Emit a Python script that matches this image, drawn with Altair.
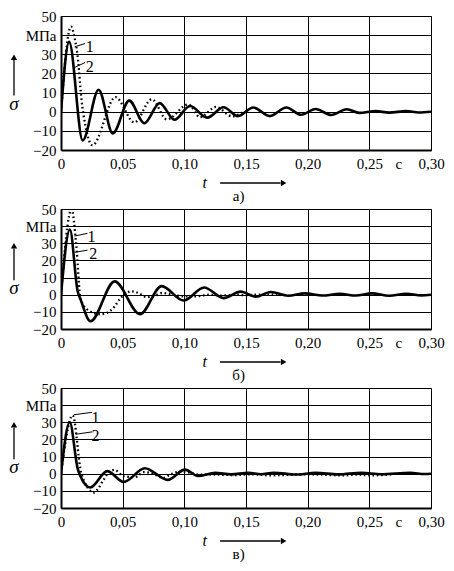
import altair as alt
import pandas as pd

FONT = "Liberation Serif"
W = 370
HEIGHTS = [134, 120, 120]

X_TICKS = [0, 0.05, 0.10, 0.15, 0.20, 0.25, 0.30]
Y_TICKS = [-20, -10, 0, 10, 20, 30, 40, 50]

# panel a
A1_T = [0, 0.0066, 0.0176, 0.0305, 0.042, 0.0553, 0.0676, 0.080, 0.092, 0.1046, 0.1185, 0.1318, 0.1435,
        0.1559, 0.1693, 0.1827, 0.1947, 0.2064, 0.219, 0.2317, 0.2418, 0.2553, 0.266, 0.28, 0.29, 0.30]
A1_S = [0, 36.5, -15, 11.5, -11.3, 5.8, -6, 4.5, -4.2, 3, -3.1, 2.3, -2.3,
        2.2, -2.3, 2.2, -1.6, 1.4, -1.7, 1.3, -0.6, 0.3, -0.5, 0.3, -0.4, 0]
A2_T = [0, 0.0081, 0.0115, 0.0133, 0.0167, 0.0197, 0.0255, 0.0442, 0.0595, 0.0736, 0.0858, 0.1033,
        0.1128, 0.1257, 0.1387, 0.148]
A2_S = [0, 44.5, 37, 30, 6, -7, -17.5, 7.6, -5.6, 6.5, -4, 3.8, -2.9, 2.5, -2.4, 0]

# panel b
B1_T = [0, 0.0072, 0.0135, 0.016, 0.0239, 0.0435, 0.0641, 0.0816, 0.0995, 0.116, 0.132, 0.1456, 0.158,
        0.170, 0.184, 0.198, 0.212, 0.226, 0.239, 0.252, 0.266, 0.28, 0.292, 0.30]
B1_S = [0, 38, 2, -3, -15.5, 7.8, -11.4, 5, -3.4, 4.2, -2, 1.8, -1.2,
        1.6, -0.6, 0.8, -0.5, 0.5, -0.5, 0.8, -0.6, 0.6, -0.4, 0]
B2_T = [0, 0.0086, 0.0123, 0.016, 0.0243, 0.0316, 0.0375, 0.0433, 0.0477, 0.0573, 0.0628, 0.0696,
        0.0772, 0.0818, 0.0873, 0.094, 0.102, 0.112, 0.12, 0.13, 0.14, 0.15, 0.16, 0.175]
B2_S = [0, 50, 29.6, -3, -10, -11.4, -10.5, -7, -2.5, 2, 1, -1.4,
        -0.4, 1, 0.6, -0.5, -1, -0.8, 0, -0.5, 0, -0.3, 0, 0]

# panel c
C1_T = [0, 0.0071, 0.0135, 0.0155, 0.0238, 0.0375, 0.0508, 0.068, 0.0866, 0.1005, 0.111, 0.125, 0.138,
        0.152, 0.162, 0.1724, 0.1908, 0.2065, 0.2248, 0.2437, 0.2595, 0.2831, 0.295, 0.30]
C1_S = [0, 30, 3, -1, -8, 1.5, -4.8, 3.2, -3.6, 2.4, -1.3, 0.5, -0.4,
        0.5, -0.3, 0.6, -0.5, 0.5, -0.4, 0.6, -0.3, 0.5, -0.2, 0]
C2_T = [0, 0.0095, 0.0165, 0.0268, 0.0303, 0.0346, 0.039, 0.0434, 0.0508, 0.060, 0.067, 0.0723, 0.0777,
        0.083, 0.0885, 0.097, 0.103, 0.1106, 0.125, 0.14, 0.155, 0.17, 0.18, 0.195, 0.21, 0.228, 0.24,
        0.25, 0.27]
C2_S = [0, 34, 0, -11, -8.5, -3.4, 0.9, 2.2, -1.5, -2, 0.9, 0.5, -1,
        -2.4, -0.5, 1.3, 0.9, -0.5, -0.5, -0.8, -0.3, -1, -0.8, -0.3, -0.5, -1, -0.5,
        -1, -0.3]

# curve number labels and leader lines (t, sigma)
LEAD_A = [(0.011, 33.9, 0.0195, 35.6), (0.011, 23.1, 0.0195, 25.7)]
NUM_A = [(0.0233, 33.8, "1"), (0.0233, 23.1, "2")]
LEAD_B = [(0.0109, 34.2, 0.0215, 35.8), (0.0109, 24.7, 0.0215, 26.0)]
NUM_B = [(0.0247, 33.7, "1"), (0.0261, 23.7, "2")]
LEAD_C = [(0.0105, 34.4, 0.0252, 35.8), (0.0118, 23.0, 0.0252, 24.4)]
NUM_C = [(0.028, 32.5, "1"), (0.028, 22.1, "2")]

PANEL_LETTERS = ["а)", "б)", "в)"]
UNIT_T = "с"
SIGMA_LABEL = "σ"
TIME_LABEL = "t"

X_LABEL_EXPR = "datum.value == 0 ? '0' : replace(format(datum.value, '.2f'), '.', ',')"
Y_LABEL_EXPR = "datum.value == 40 ? 'МПа' : format(datum.value, 'd')"

X_SCALE = alt.Scale(domain=[0, 0.3], nice=False, zero=False)
Y_SCALE = alt.Scale(domain=[-20, 50], nice=False, zero=False)

X_AXIS = alt.Axis(values=X_TICKS, labelExpr=X_LABEL_EXPR, title=None, grid=True, gridColor="black",
                  gridWidth=1, gridOpacity=1, ticks=False, domainColor="black", domainWidth=2,
                  labelFont=FONT, labelFontSize=15, labelColor="black", labelFlush=False,
                  labelOverlap=False, labelPadding=6)
Y_AXIS = alt.Axis(values=Y_TICKS, labelExpr=Y_LABEL_EXPR, title=None, grid=True, gridColor="black",
                  gridWidth=1, gridOpacity=1, ticks=False, domainColor="black", domainWidth=2,
                  labelFont=FONT, labelFontSize=15, labelColor="black", labelFlush=False,
                  labelOverlap=False, labelPadding=5)


def xenc(f="t"):
    return alt.X(f"{f}:Q", scale=X_SCALE, axis=X_AXIS)


def yenc(f="s"):
    return alt.Y(f"{f}:Q", scale=Y_SCALE, axis=Y_AXIS)


def panel(s_t, s_s, d_t, d_s, leads, nums, letter, h):
    solid = alt.Chart(pd.DataFrame({"t": s_t, "s": s_s})).mark_line(
        interpolate="monotone", color="black", strokeWidth=2.6, clip=True
    ).encode(x=xenc(), y=yenc())
    dotted = alt.Chart(pd.DataFrame({"t": d_t, "s": d_s})).mark_line(
        interpolate="monotone", color="black", strokeWidth=2.3, strokeDash=[1.6, 2.7], clip=True
    ).encode(x=xenc(), y=yenc())
    ldf = pd.DataFrame(leads, columns=["t", "s", "t2", "s2"])
    leaders = alt.Chart(ldf).mark_rule(color="black", strokeWidth=1).encode(
        x=xenc(), y=yenc(), x2="t2:Q", y2="s2:Q")
    ndf = pd.DataFrame(nums, columns=["t", "s", "txt"])
    numbers = alt.Chart(ndf).mark_text(font=FONT, fontSize=16, color="black", align="center",
                                       baseline="middle").encode(x=xenc(), y=yenc(), text="txt:N")
    # sigma label and upward arrow
    sig = alt.Chart(pd.DataFrame({"s": [4.0], "txt": [SIGMA_LABEL]})).mark_text(
        font=FONT, fontSize=19, fontStyle="italic", color="black", align="center", baseline="middle"
    ).encode(x=alt.value(-47), y=yenc(), text="txt:N")
    sig_arrow = alt.Chart(pd.DataFrame({"s": [8.5], "s2": [27.0]})).mark_rule(
        color="black", strokeWidth=1.3).encode(x=alt.value(-47), y=yenc(), y2="s2:Q")
    sig_head = alt.Chart(pd.DataFrame({"s": [28.5]})).mark_point(
        shape="triangle-up", filled=True, color="black", size=40, opacity=1
    ).encode(x=alt.value(-47), y=yenc())
    # time label and arrow
    tl = alt.Chart(pd.DataFrame({"t": [0.1166], "txt": [TIME_LABEL]})).mark_text(
        font=FONT, fontSize=16, fontStyle="italic", color="black", align="center", baseline="middle"
    ).encode(x=xenc(), y=alt.value(h + 33), text="txt:N")
    t_arrow = alt.Chart(pd.DataFrame({"t": [0.129], "t2": [0.178]})).mark_rule(
        color="black", strokeWidth=1.3).encode(x=xenc(), x2="t2:Q", y=alt.value(h + 33))
    t_head = alt.Chart(pd.DataFrame({"t": [0.1805]})).mark_point(
        shape="triangle-right", filled=True, color="black", size=40, opacity=1
    ).encode(x=xenc(), y=alt.value(h + 33))
    unit = alt.Chart(pd.DataFrame({"t": [0.274], "txt": [UNIT_T]})).mark_text(
        font=FONT, fontSize=15, color="black", align="center", baseline="middle"
    ).encode(x=xenc(), y=alt.value(h + 14), text="txt:N")
    let = alt.Chart(pd.DataFrame({"t": [0.144], "txt": [letter]})).mark_text(
        font=FONT, fontSize=15, color="black", align="center", baseline="middle"
    ).encode(x=xenc(), y=alt.value(h + 46), text="txt:N")
    return alt.layer(solid, dotted, leaders, numbers, sig, sig_arrow, sig_head, tl, t_arrow, t_head,
                     unit, let).properties(width=W, height=h)


pa = panel(A1_T, A1_S, A2_T, A2_S, LEAD_A, NUM_A, PANEL_LETTERS[0], HEIGHTS[0])
pb = panel(B1_T, B1_S, B2_T, B2_S, LEAD_B, NUM_B, PANEL_LETTERS[1], HEIGHTS[1])
pc = panel(C1_T, C1_S, C2_T, C2_S, LEAD_C, NUM_C, PANEL_LETTERS[2], HEIGHTS[2])

chart = alt.VConcatChart(vconcat=[pa, pb, pc], spacing=59, bounds="flush").properties(
    padding={"left": 0, "top": 0, "right": 0, "bottom": 0}, background="white"
).configure_view(stroke="black", strokeWidth=1)

chart.save("out.html", embed_options={"renderer": "svg", "actions": False})
